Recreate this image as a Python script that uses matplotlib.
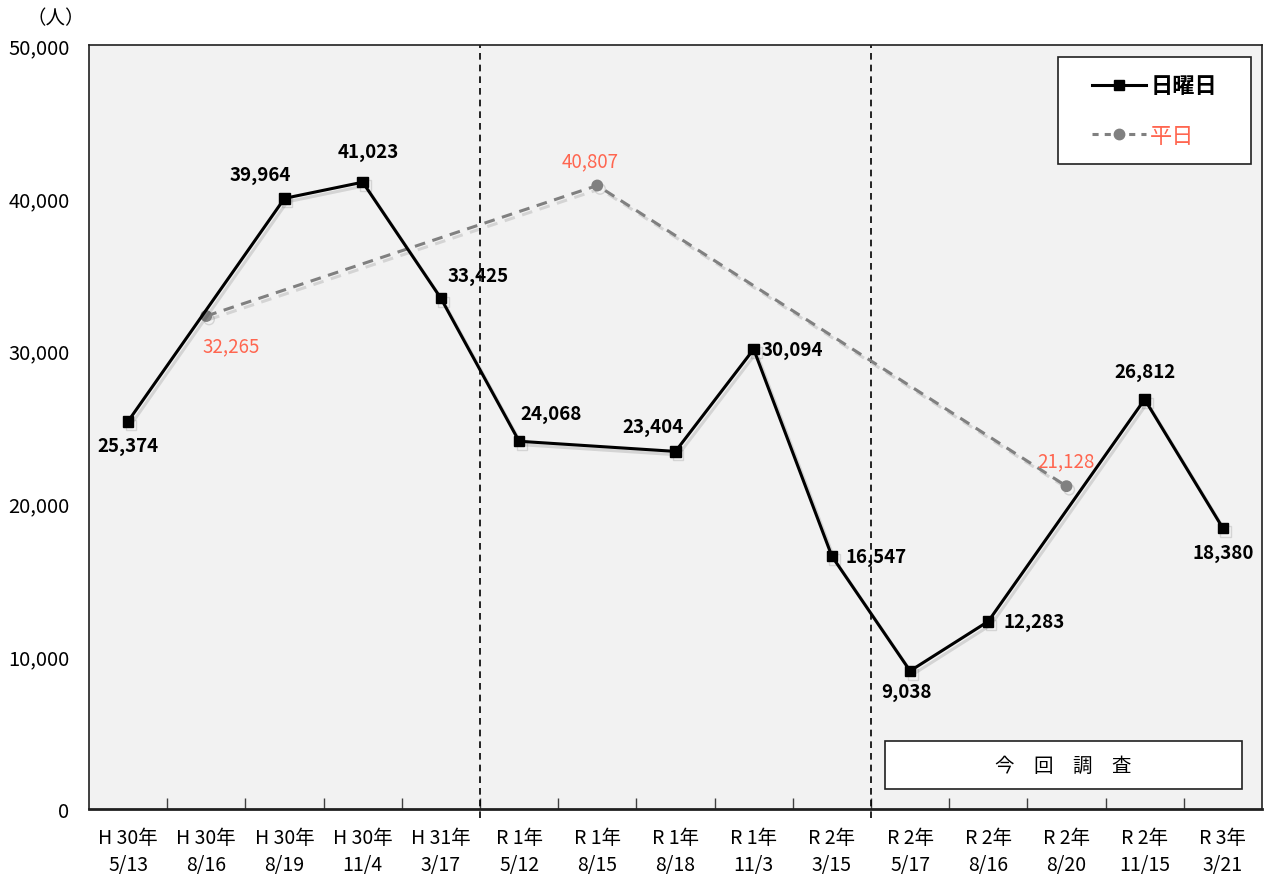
import matplotlib
matplotlib.use("Agg")
import matplotlib.pyplot as plt
import matplotlib.patheffects as pe
from matplotlib.lines import Line2D
from matplotlib.patches import Rectangle
import numpy as np

plt.rcParams['font.family'] = ['Noto Sans CJK JP', 'DejaVu Sans']

# survey dates (era year + month/day)
years = ["H 30年", "H 30年", "H 30年", "H 30年", "H 31年", "R 1年", "R 1年", "R 1年",
         "R 1年", "R 2年", "R 2年", "R 2年", "R 2年", "R 2年", "R 3年"]
dates = ["5/13", "8/16", "8/19", "11/4", "3/17", "5/12", "8/15", "8/18",
         "11/3", "3/15", "5/17", "8/16", "8/20", "11/15", "3/21"]

# None = not surveyed on that day type
sunday = [25374, None, 39964, 41023, 33425, 24068, None, 23404,
          30094, 16547, 9038, 12283, None, 26812, 18380]
weekday = [None, 32265, None, None, None, None, 40807, None,
           None, None, None, None, 21128, None, None]

# label offsets in pixels (dx, dy, horizontal alignment)
sun_off = [(0, -24, 'center'), None, (-24, 24, 'center'), (6, 31, 'center'), (37, 23, 'center'),
           (32, 28, 'center'), None, (-22, 25, 'center'), (8, 0, 'left'), (14, 0, 'left'),
           (-4, -21, 'center'), (15, 0, 'left'), None, (0, 28, 'center'), (0, -24, 'center')]
wk_off = {1: (25, -30), 6: (-7, 25), 12: (-1, 25)}

fig = plt.figure(figsize=(12.64, 8.78), dpi=100)
ax = fig.add_axes([0.0704, 0.0774, 0.928, 0.8702])
ax.set_facecolor('#f2f2f2')

shadow = [pe.SimpleLineShadow(offset=(2, -2.5), alpha=0.12), pe.Normal()]

sx = [i for i, v in enumerate(sunday) if v is not None]
sy = [v for v in sunday if v is not None]
wx = [i for i, v in enumerate(weekday) if v is not None]
wy = [v for v in weekday if v is not None]

ax.plot(wx, wy, color='#808080', lw=2.2, ls=(0, (3.5, 2.5)), marker='o', ms=7.5,
        path_effects=shadow, zorder=3)
ax.plot(sx, sy, color='black', lw=2.2, marker='s', ms=7.5,
        path_effects=shadow, zorder=4)

px2pt = 0.72
for i, v in enumerate(sunday):
    if v is None:
        continue
    dx, dy, ha = sun_off[i]
    ax.annotate(f"{v:,}", (i, v), xytext=(dx * px2pt, dy * px2pt), textcoords='offset points',
                ha=ha, va='center', fontsize=13.5, fontweight='bold', color='black', zorder=5)
for i, v in enumerate(weekday):
    if v is None:
        continue
    dx, dy = wk_off[i]
    ax.annotate(f"{v:,}", (i, v), xytext=(dx * px2pt, dy * px2pt), textcoords='offset points',
                ha='center', va='center', fontsize=13.5, color='#ff6650', zorder=5)

# era boundaries
for xb in [4.5, 9.5]:
    ax.plot([xb, xb], [-600, 50000], color='black', lw=1.2, ls=(0, (4, 3)), clip_on=False, zorder=2)

ax.set_xlim(-0.5, 14.5)
ax.set_ylim(0, 50000)
ax.set_yticks(np.arange(0, 50001, 10000))
ax.set_yticklabels([f"{v:,}" for v in range(0, 50001, 10000)], fontsize=14.5)
ax.tick_params(axis='y', length=0, pad=14)

ax.set_xticks(range(15))
ax.set_xticklabels([f"{y}\n{d}" for y, d in zip(years, dates)], fontsize=14, linespacing=1.35)
ax.tick_params(axis='x', which='major', length=0, pad=13)
ax.set_xticks(np.arange(0.5, 14, 1), minor=True)
ax.tick_params(axis='x', which='minor', direction='in', length=8, width=1, color='#404040')

for s in ax.spines.values():
    s.set_color('#202020')
    s.set_linewidth(1.2)
ax.spines['bottom'].set_linewidth(2)

fig.text(0.044, 0.979, "（人）", ha='center', va='center', fontsize=14)

# legend: white box drawn separately, entries centred inside
ax.add_patch(Rectangle((0.826, 0.844), 0.165, 0.140, transform=ax.transAxes,
                       facecolor='white', edgecolor='#202020', lw=1.2, zorder=6))
handles = [Line2D([], [], color='black', lw=2.2, marker='s', ms=7.5),
           Line2D([], [], color='#808080', lw=2.2, ls=(0, (2, 2)), marker='o', ms=7.5)]
leg = ax.legend(handles, ["日曜日", "平日"], loc='center', bbox_to_anchor=(0.9085, 0.914),
                frameon=False, fontsize=16, labelspacing=1.2, borderpad=0, handlelength=2.4,
                handletextpad=0.2, borderaxespad=0)
leg.set_zorder(7)
leg.get_texts()[0].set_fontweight('bold')
leg.get_texts()[1].set_color('#ff6650')

# current survey box
ax.add_patch(Rectangle((0.679, 0.026), 0.304, 0.063, transform=ax.transAxes,
                       facecolor='white', edgecolor='#202020', lw=1.2, zorder=6))
ax.text(0.831, 0.0575, "今　回　調　査", transform=ax.transAxes, ha='center', va='center',
        fontsize=14, zorder=7)

fig.savefig("out.png", dpi=100, facecolor='white')
